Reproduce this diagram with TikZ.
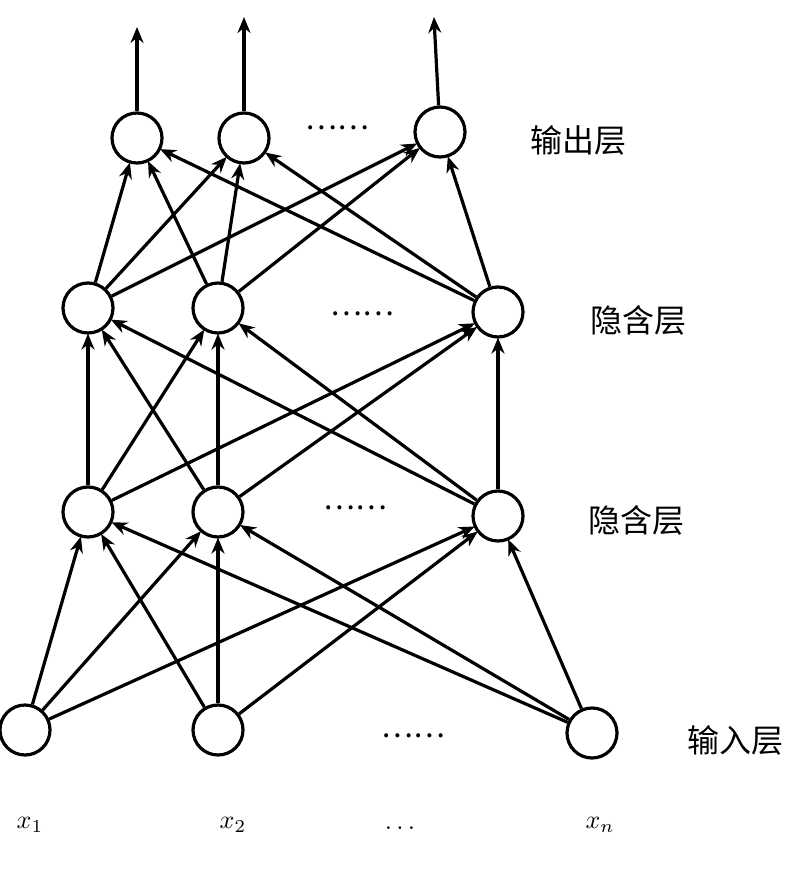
\documentclass[tikz,border=0pt]{standalone}
\usepackage{fontspec}
\newfontfamily\cjk{Noto Sans CJK SC}
\usetikzlibrary{arrows.meta}
\begin{document}
\begin{tikzpicture}[x=1pt,y=-1pt,
 neuron/.style={circle,draw,line width=3.2pt,minimum size=50pt,inner sep=0pt},
 conn/.style={line width=3.2pt,-{Stealth[length=16pt,width=13pt]},shorten >=-1pt},
 lab/.style={font=\cjk\fontsize{32}{38}\selectfont},
 dots/.style={font=\cjk\fontsize{30}{36}\selectfont},
 xl/.style={inner sep=0pt}]
\useasboundingbox (0,0) rectangle (801,882);
\node[neuron] (i1) at (25,730) {};
\node[neuron] (i2) at (218,730) {};
\node[neuron] (i3) at (592,733) {};
\node[neuron] (a1) at (88,512) {};
\node[neuron] (a2) at (218,512) {};
\node[neuron] (a3) at (498,516) {};
\node[neuron] (b1) at (88,308) {};
\node[neuron] (b2) at (218,308) {};
\node[neuron] (b3) at (498,312) {};
\node[neuron] (o1) at (137,138) {};
\node[neuron] (o2) at (244,138) {};
\node[neuron] (o3) at (440,132) {};
\coordinate (t1) at (137,28);
\coordinate (t2) at (244,18);
\coordinate (t3) at (434,18);
\foreach \s in {i1,i2,i3}{\foreach \t in {a1,a2,a3}{\draw[conn] (\s) -- (\t);}}
\foreach \s in {a1,a2,a3}{\foreach \t in {b1,b2,b3}{\draw[conn] (\s) -- (\t);}}
\foreach \s in {b1,b2,b3}{\foreach \t in {o1,o2,o3}{\draw[conn] (\s) -- (\t);}}
\draw[conn] (o1) -- (t1);
\draw[conn] (o2) -- (t2);
\draw[conn] (o3) -- (t3);
\node[dots] (d1) at (413,736) {……};
\node[dots] (d2) at (355,508) {……};
\node[dots] (d3) at (362,314) {……};
\node[dots] (d4) at (337,128) {……};
\node[lab] (l1) at (578,140) {输出层};
\node[lab] (l2) at (638,320) {隐含层};
\node[lab] (l3) at (636,520) {隐含层};
\node[lab] (l4) at (735,740) {输入层};
\node[xl] (x1) at (30,825) {\scalebox{2.6}{$x_1$}};
\node[xl] (x2) at (233,825) {\scalebox{2.6}{$x_2$}};
\node[xl] (x3) at (400,828) {\scalebox{2.6}{$\ldots$}};
\node[xl] (x4) at (600,825) {\scalebox{2.6}{$x_n$}};
\end{tikzpicture}
\end{document}
